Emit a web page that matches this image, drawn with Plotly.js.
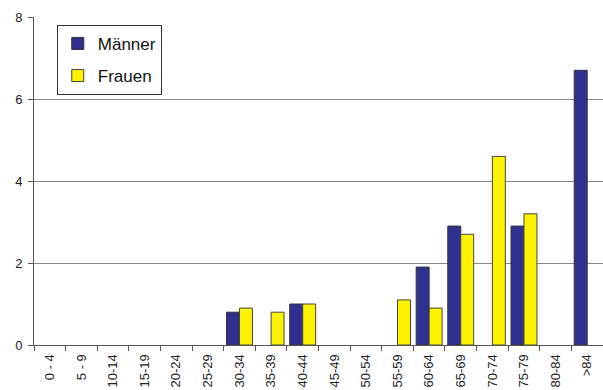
<!DOCTYPE html>
<html>
<head>
<meta charset="utf-8">
<script src="https://cdn.plot.ly/plotly-3.0.1.min.js"></script>
<style>html,body{margin:0;padding:0;background:#fff;}#chart{width:603px;height:390px;}</style>
</head>
<body>
<div id="chart"></div>
<script>
const categories = ["0 - 4","5 - 9","10-14","15-19","20-24","25-29","30-34","35-39","40-44","45-49","50-54","55-59","60-64","65-69","70-74","75-79","80-84",">84"];
const maenner = [null,null,null,null,null,null,0.8,null,1.0,null,null,null,1.9,2.9,null,2.9,null,6.7];
const frauen  = [null,null,null,null,null,null,0.9,0.8,1.0,null,null,1.1,0.9,2.7,4.6,3.2,null,null];
const yTicks = [0,2,4,6,8];

const traces = [
  {type:'bar', name:'Männer', x:categories, y:maenner, legendgroup:'m',
   marker:{color:'#2E3192', line:{color:'#333333', width:1}}},
  {type:'bar', name:'Frauen', x:categories, y:frauen, legendgroup:'f',
   marker:{color:'#FFF200', line:{color:'#444444', width:1}}}
];

const layout = {
  width:603, height:390,
  margin:{l:34, r:0, t:17, b:45, pad:0},
  paper_bgcolor:'#fff', plot_bgcolor:'#fff',
  barmode:'group', bargap:0.18, bargroupgap:0,
  font:{family:'Liberation Sans, Arial, sans-serif', color:'#222'},
  showlegend:true,
  legend:{x:0.04, y:0.976, xanchor:'left', yanchor:'top',
    bgcolor:'#fff', bordercolor:'#333', borderwidth:1,
    font:{size:17, color:'#111'}, traceorder:'grouped', tracegroupgap:7},
  xaxis:{type:'category', categoryarray:categories, tickangle:-90,
    tickson:'boundaries', ticks:'outside', ticklen:5, tickcolor:'#555',
    showline:true, linecolor:'#555', linewidth:1, showgrid:false,
    ticklabelstandoff:3,
    tickfont:{size:13, color:'#222'}, automargin:false, fixedrange:true},
  yaxis:{range:[0,8], tickvals:yTicks, ticktext:yTicks.map(String),
    ticks:'outside', ticklen:5, tickcolor:'#555',
    showline:true, linecolor:'#555', linewidth:1,
    showgrid:true, gridcolor:'#888', gridwidth:1, zeroline:false,
    ticklabelstandoff:3,
    tickfont:{size:13, color:'#222'}, automargin:false, fixedrange:true}
};

Plotly.newPlot('chart', traces, layout, {displayModeBar:false, staticPlot:true});
</script>
</body>
</html>
